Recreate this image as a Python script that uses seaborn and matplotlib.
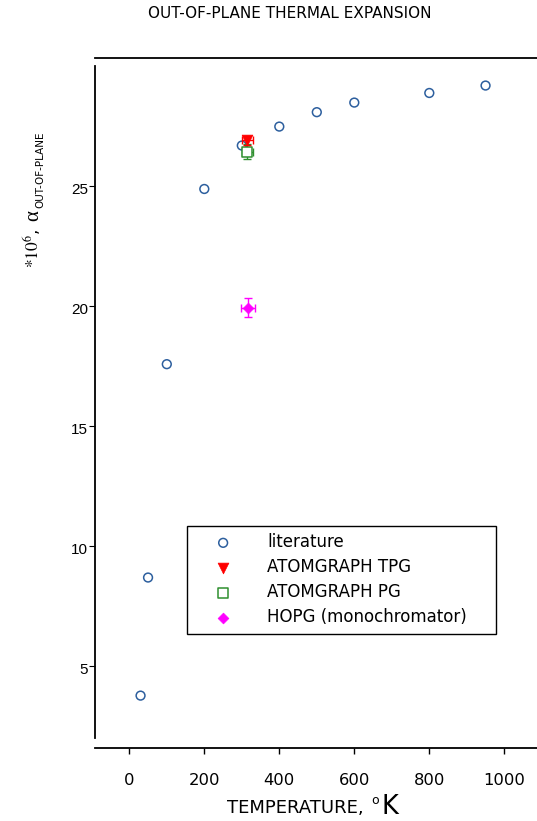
import matplotlib
matplotlib.use("Agg")
import matplotlib.pyplot as plt
import matplotlib.transforms as mtrans
import seaborn as sns

# Literature values: temperature (K) and out-of-plane expansion coefficient (*1e6)
lit_T = [30, 50, 100, 200, 300, 400, 500, 600, 800, 950]
lit_alpha = [3.75, 8.67, 17.56, 24.86, 26.67, 27.46, 28.06, 28.46, 28.86, 29.17]

# Measured samples (temperature, value, errors)
tpg_T, tpg_alpha, tpg_xerr, tpg_yerr = [315], [26.88], [15], [0.17]
pg_T, pg_alpha, pg_xerr, pg_yerr = [315], [26.42], [15], [0.32]
hopg_T, hopg_alpha, hopg_xerr, hopg_yerr = [316], [19.92], [18], [0.41]

series_labels = ["literature", "ATOMGRAPH TPG", "ATOMGRAPH PG", "HOPG (monochromator)"]
x_ticks = [0, 200, 400, 600, 800, 1000]
y_ticks = [5, 10, 15, 20, 25]

sns.set_style("white")
plt.rcParams["font.family"] = ["DejaVu Sans"]
plt.rcParams["mathtext.fontset"] = "stix"
plt.rcParams["text.color"] = "black"
plt.rcParams["axes.labelcolor"] = "black"
plt.rcParams["xtick.color"] = "black"
plt.rcParams["ytick.color"] = "black"

W, H = 537, 821
fig = plt.figure(figsize=(W / 100, H / 100), dpi=100)
ax = fig.add_axes([94.5 / W, (H - 747.7) / H, 1 - 94.5 / W, (747.7 - 57.7) / H])

BLUE = "#2d5f9e"
RED = "#ff0000"
GREEN = "#2f8f2f"
MAGENTA = "#ff00ff"

sns.scatterplot(x=lit_T, y=lit_alpha, ax=ax, marker="o", s=40,
                facecolor="none", edgecolor=BLUE, linewidth=1.1,
                label=series_labels[0], zorder=3)

ax.errorbar(pg_T, pg_alpha, xerr=pg_xerr, yerr=pg_yerr, fmt="none",
            ecolor=GREEN, elinewidth=1.0, capsize=3, capthick=1.0, zorder=4)
sns.scatterplot(x=pg_T, y=pg_alpha, ax=ax, marker="s", s=55,
                facecolor="white", edgecolor=GREEN, linewidth=1.1,
                label=series_labels[2], zorder=5)

ax.errorbar(tpg_T, tpg_alpha, xerr=tpg_xerr, yerr=tpg_yerr, fmt="none",
            ecolor=RED, elinewidth=1.0, capsize=3, capthick=1.0, zorder=6)
sns.scatterplot(x=tpg_T, y=tpg_alpha, ax=ax, marker="v", s=60,
                color=RED, edgecolor=RED, linewidth=0.5,
                label=series_labels[1], zorder=7)

ax.errorbar(hopg_T, hopg_alpha, xerr=hopg_xerr, yerr=hopg_yerr, fmt="none",
            ecolor=MAGENTA, elinewidth=1.0, capsize=3, capthick=1.0, zorder=6)
sns.scatterplot(x=hopg_T, y=hopg_alpha, ax=ax, marker="D", s=30,
                color=MAGENTA, edgecolor=MAGENTA, linewidth=0.5,
                label=series_labels[3], zorder=7)

ax.set_xlim(-92.8, 1087.2)
ax.set_ylim(1.58, 30.33)
ax.set_xticks(x_ticks)
ax.set_yticks(y_ticks)
ax.set_xticklabels([str(t) for t in x_ticks], fontsize=11.8)
ax.set_yticklabels([str(t) for t in y_ticks], fontsize=11,
                   family=["Liberation Sans", "DejaVu Sans"])

for side in ["left", "top", "bottom"]:
    ax.spines[side].set_visible(True)
    ax.spines[side].set_color("black")
    ax.spines[side].set_linewidth(1.3)
ax.spines["right"].set_visible(False)
ax.spines["left"].set_bounds(2, 30)

ax.tick_params(axis="x", direction="out", length=4.5, width=1.0, pad=14,
               bottom=True, top=False, colors="black")
ax.tick_params(axis="y", direction="out", length=4.5, width=0.8, pad=0,
               left=True, right=False, colors="black")

# nudge the y tick labels slightly downward
offset = mtrans.ScaledTranslation(0, -3 / 100, fig.dpi_scale_trans)
for lab in ax.get_yticklabels():
    lab.set_transform(lab.get_transform() + offset)

# legend
handles, labels = ax.get_legend_handles_labels()
order = [labels.index(l) for l in series_labels]
leg = ax.legend([handles[i] for i in order], [labels[i] for i in order],
                loc="upper left",
                bbox_to_anchor=((187.3 - 94.5) / (W - 94.5), (747.7 - 525.7) / 690.0,
                                (496 - 187.3) / (W - 94.5), 0.0),
                mode="expand", borderaxespad=0, fontsize=12,
                frameon=True, fancybox=False, framealpha=1,
                edgecolor="black", borderpad=0.45, labelspacing=0.42,
                handlelength=3.4, handletextpad=0.95, markerscale=1.0,
                labelcolor="black")
leg.get_frame().set_linewidth(1.0)


def fx(px):
    return px / W


def fy(py):
    return (H - py) / H


fig.text(fx(290), fy(14), "OUT-OF-PLANE THERMAL EXPANSION",
         ha="center", va="center", fontsize=11, color="black")

# x-axis label built from pieces so the unit can be larger
fig.text(fx(226.7), fy(813.3), "TEMPERATURE,", ha="left", va="baseline",
         fontsize=13, color="black")
fig.text(fx(371), fy(803.5), "o", ha="left", va="baseline",
         fontsize=9, color="black")
fig.text(fx(382), fy(814), "K", ha="left", va="baseline",
         fontsize=18.5, color="black")

# y-axis label: *10^6, alpha with subscript, rotated
fig.text(fx(38.5), fy(268), r"$*10^{6}$,", rotation=90, rotation_mode="anchor",
         ha="left", va="baseline", fontsize=12.5, color="black")
fig.text(fx(38.5), fy(221), "α", rotation=90, rotation_mode="anchor",
         ha="left", va="baseline", fontsize=15, color="black",
         family=["Liberation Serif", "DejaVu Serif"])
fig.text(fx(43), fy(207.5), "OUT-OF-PLANE", rotation=90, rotation_mode="anchor",
         ha="left", va="baseline", fontsize=7.5, color="black")

fig.savefig("out.png", dpi=100)
